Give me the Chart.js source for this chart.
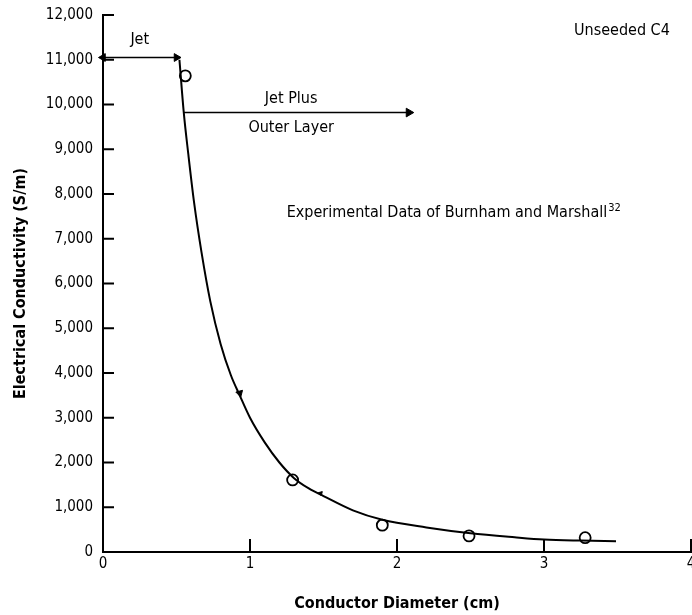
<!DOCTYPE html>
<html>
<head>
<meta charset="utf-8">
<script src="https://cdn.jsdelivr.net/npm/chart.js@4.4.1/dist/chart.umd.min.js"></script>
<style>
  body { margin: 0; background: #fff; }
  #wrap { width: 692px; height: 615px; }
</style>
</head>
<body>
<div id="wrap"><canvas id="chart"></canvas></div>
<script>
// measured conductivity vs conductor diameter
const diameterCm = [0.56, 1.29, 1.90, 2.49, 3.28];
const conductivity = [10640, 1610, 600, 360, 320];

// fitted curve, read point by point
const curveDiameter = [0.52, 0.55, 0.58, 0.62, 0.67, 0.73, 0.80, 0.87, 0.93, 1.00, 1.10, 1.20, 1.30, 1.40, 1.50, 1.70, 1.90, 2.20, 2.50, 2.80, 3.00, 3.25, 3.49];
const curveConductivity = [11000, 9800, 8900, 7800, 6700, 5600, 4650, 3950, 3500, 3000, 2450, 2000, 1650, 1420, 1250, 930, 720, 550, 420, 330, 280, 255, 241];

// small filled marks on the curve
const markDiameter = [0.93, 1.48];
const markConductivity = [3550, 1310];

// region arrows
const jetRange = [0, 0.5];
const jetLevel = 11050;
const outerRange = [0.55, 2.08];
const outerLevel = 9820;

const xTicks = [0, 1, 2, 3, 4];
const yTicks = [0, 1000, 2000, 3000, 4000, 5000, 6000, 7000, 8000, 9000, 10000, 11000, 12000];

const FONT = "'Liberation Sans Narrow', 'DejaVu Sans Condensed', 'Liberation Sans', sans-serif";

const notes = [
  { text: 'Jet', x: 0.25, y: 11450, align: 'center' },
  { text: 'Unseeded C4', x: 3.53, y: 11650, align: 'center' },
  { text: 'Jet Plus', x: 1.28, y: 10130, align: 'center' },
  { text: 'Outer Layer', x: 1.28, y: 9470, align: 'center' },
  { text: 'Experimental Data of Burnham and Marshall', x: 1.25, y: 7580, align: 'left', sup: '32' }
];

const toXY = (xs, ys) => xs.map((x, i) => ({ x: x, y: ys[i] }));

// inward tick marks, region labels
const decorations = {
  id: 'decorations',
  afterDraw(chart) {
    const { ctx, scales: { x, y } } = chart;
    ctx.save();
    ctx.strokeStyle = '#000';
    ctx.lineWidth = 2;
    ctx.beginPath();
    yTicks.slice(1).forEach(v => {
      const py = y.getPixelForValue(v);
      ctx.moveTo(x.left, py);
      ctx.lineTo(x.left + 11, py);
    });
    xTicks.slice(1).forEach(v => {
      const px = x.getPixelForValue(v);
      ctx.moveTo(px, y.bottom);
      ctx.lineTo(px, y.bottom - 13);
    });
    ctx.stroke();

    ctx.fillStyle = '#000';
    ctx.textBaseline = 'middle';
    notes.forEach(n => {
      ctx.font = '16px ' + FONT;
      const px = x.getPixelForValue(n.x);
      const py = y.getPixelForValue(n.y);
      ctx.textAlign = n.align;
      ctx.fillText(n.text, px, py);
      if (n.sup) {
        const w = ctx.measureText(n.text).width;
        ctx.font = '11px ' + FONT;
        ctx.textAlign = 'left';
        ctx.fillText(n.sup, px + w + 1, py - 5);
      }
    });
    ctx.restore();
  }
};

new Chart(document.getElementById('chart'), {
  type: 'line',
  data: {
    datasets: [
      {
        data: toXY(curveDiameter, curveConductivity),
        borderColor: '#000',
        borderWidth: 2,
        pointRadius: 0,
        cubicInterpolationMode: 'monotone',
        clip: false
      },
      {
        data: toXY(diameterCm, conductivity),
        showLine: false,
        pointStyle: 'circle',
        pointRadius: 5.5,
        pointBorderWidth: 1.8,
        pointBorderColor: '#000',
        pointBackgroundColor: '#fff'
      },
      {
        data: toXY(markDiameter, markConductivity),
        showLine: false,
        pointStyle: 'triangle',
        pointRadius: [4, 2.5],
        pointRotation: 165,
        pointBorderWidth: 1,
        pointBorderColor: '#000',
        pointBackgroundColor: '#000'
      },
      {
        data: toXY(jetRange, [jetLevel, jetLevel]),
        borderColor: '#000',
        borderWidth: 1.5,
        pointStyle: 'triangle',
        pointRadius: 4.5,
        pointRotation: [-90, 90],
        pointBorderWidth: 1,
        pointBorderColor: '#000',
        pointBackgroundColor: '#000',
        clip: false
      },
      {
        data: toXY(outerRange, [outerLevel, outerLevel]),
        borderColor: '#000',
        borderWidth: 1.5,
        pointStyle: 'triangle',
        pointRadius: [0, 5],
        pointRotation: 90,
        pointBorderWidth: 1,
        pointBorderColor: '#000',
        pointBackgroundColor: '#000',
        clip: false
      }
    ]
  },
  options: {
    responsive: true,
    maintainAspectRatio: false,
    animation: false,
    layout: { autoPadding: false, padding: { top: 15, right: 1, left: 0, bottom: 0 } },
    plugins: { legend: { display: false }, tooltip: { enabled: false } },
    scales: {
      x: {
        type: 'linear',
        min: 0,
        max: 4,
        afterBuildTicks: s => { s.ticks = xTicks.map(v => ({ value: v })); },
        afterFit: s => { s.height = 63; s.paddingLeft = 0; s.paddingRight = 0; },
        grid: { display: false, drawTicks: false },
        border: { display: true, color: '#000', width: 2 },
        ticks: { color: '#000', padding: 3, font: { family: FONT, size: 15 } },
        title: {
          display: true,
          text: 'Conductor Diameter (cm)',
          color: '#000',
          font: { family: FONT, size: 16, weight: 'bold' },
          padding: { top: 18, bottom: 2 }
        }
      },
      y: {
        min: 0,
        max: 12000,
        afterBuildTicks: s => { s.ticks = yTicks.map(v => ({ value: v })); },
        afterFit: s => { s.width = 103; s.paddingTop = 0; s.paddingBottom = 0; },
        grid: { display: false, drawTicks: false },
        border: { display: true, color: '#000', width: 2 },
        ticks: {
          color: '#000',
          padding: 10,
          font: { family: FONT, size: 15 },
          callback: v => v.toLocaleString('en-US')
        },
        title: {
          display: true,
          text: 'Electrical Conductivity (S/m)',
          color: '#000',
          font: { family: FONT, size: 16, weight: 'bold' },
          padding: { top: 11, bottom: 0 }
        }
      }
    }
  },
  plugins: [decorations]
});
</script>
</body>
</html>
